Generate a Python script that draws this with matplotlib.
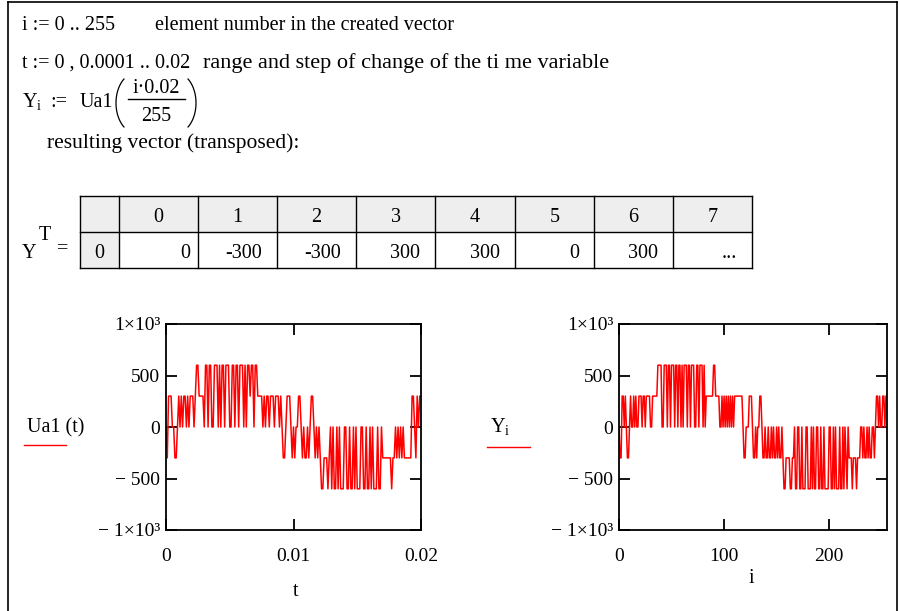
import numpy as np
import matplotlib
matplotlib.use("Agg")
import matplotlib.pyplot as plt
from matplotlib.lines import Line2D
from matplotlib.patches import Rectangle

plt.rcParams['font.family'] = ['Liberation Serif', 'DejaVu Serif']
plt.rcParams['mathtext.fontset'] = 'custom'
plt.rcParams['mathtext.rm'] = 'Liberation Serif'
plt.rcParams['mathtext.it'] = 'Liberation Serif:italic'

W, H = 899, 611
FS = 14.5      # worksheet text
TFS = 14       # tick labels

# Ua1(t), t = 0, 0.0001 .. 0.02  (201 points)
ua1_values = [
    0, -300, 300, 300, 300, 0, 0, -300, -300, 0,
    300, 0, 300, 0, 300, 300, 0, 300, 0, 300, 300, 300, 0, 300,
    600, 600, 300, 300, 300, 300, 0,
    600, 600, 0, 600, 600, 0, 0, 600, 600, 600, 0, 600, 0, 600, 600, 0, 600, 600, 600, 0,
    0, 600, 600, 0, 600, 600, 0, 600, 600, 600, 0, 600, 0, 600, 600, 300, 600, 600, 0, 600, 600,
    300, 300, 300, 300, 0, 300, 0, 300, 300, 0, 300, 300, 300, 0, 300, 300, 300,
    0, 300, 0, -300, -300, 0, 300, 300, 300, 0, -300, 0, -300, 0, 0, 300, 300, 0, -300, 0,
    -300, -300, 0, -300, 0, 300, 300, 0, -300, 0, -300, 0, -300,
    -600, -600, -300, -300, -300, -600, -300, 0, -600,
    0, -600, -600, 0, -600, 0, -600, -600, -600, 0, 0, -600, -600, 0, -600, -600, 0, -600, 0, -600,
    -600, -600, 0, 0, -600, -600, 0, -600, -600, 0, -600, 0, -600, -600, -600, 0, -600, -600, 0, -300,
    -300, -300, -300, -300, -300, -300, -600, -300, -300, 0,
    -300, 0, -300, 0, -300, 0, -300, -300, -300, -300, -300, -300,
    300, 300, 0, -300, 300, 0, 300, 300,
]

# Y_i = Ua1(i*0.02/255), i = 0 .. 255
y_values = [
    0, -300, -300, 300, 300, 0, 300, 0, -300, -300, 0,
    300, 0, 0, 300, 0, 300, 0, 0, 300, 300, 300, 0, 300, 300, 0, 300, 300, 300, 300, 0,
    0, 300, 300, 300, 300, 300,
    600, 600, 600, 600, 0, 0, 600, 600, 600, 0, 600, 600, 0, 600, 600, 600, 0, 600, 600, 0,
    600, 600, 0, 600,
    0, 600, 600, 600, 0, 600, 600, 0, 600, 600, 600, 0, 0, 600, 600, 0, 600, 600, 600, 0,
    600, 0, 300, 300, 300, 300, 300, 300, 300, 600, 600, 300,
    300, 300, 300, 0, 0, 300, 0, 300, 0, 300, 0, 300, 0, 300, 0, 300, 0, 300, 300, 300,
    300, 300, 300, 300, 300, 0,
    -300, -300, 0, 0, 0, 300, 300, 300, 0, -300, -300, 0, -300, 0, 0, 300, 300, 0, -300, -300,
    0, -300, -300, 0, -300, -300, 0, -300, 0, -300, -300, 0, -300, 0, -300, -300, 0, -300,
    -600, -600, -300, -300, -300, -300, -600, -600, -300, -300, 0, -600, -600, 0,
    0, -600, -600, 0, -600, -600, -600, 0, 0, -600, -600, -600, 0, -600, 0, -600, -600, 0, 0,
    -600, -600, 0, -600, -600, 0, -600, -600, -600, -600, 0, 0, -600, -600, 0, -600, 0, -600,
    -600, -600, 0, -600, -600, 0, -600, 0, -300, -600, 0, -300,
    -300, -300, -600, -300, -300, -300, -600, -300, -300, -300, 0,
    0, -300, 0, -300, -300, 0, -300, 0, -300, -300, 0, 0, -300,
    0, 300, 300, 0, 300, 0, 0, 300, 300, 0, 300, 300,
]

t = np.arange(len(ua1_values)) * 0.0001
i = np.arange(len(y_values))

table_head = ['0', '1', '2', '3', '4', '5', '6', '7']
table_row = ['0', '-300', '-300', '300', '300', '0', '300', '...']

y_ticks = [-1000, -500, 0, 500, 1000]
y_tick_labels = ['\u2212 1\u00d710\u00b3', '\u2212 500', '0', '500', '1\u00d710\u00b3']
t_ticks = [0, 0.01, 0.02]
t_tick_labels = ['0', '0.01', '0.02']
i_ticks = [0, 100, 200]
i_tick_labels = ['0', '100', '200']


# ── helpers (pixel coords -> figure coords) ───────────────────
def fx(x):
    return x / W


def fy(y):
    return 1 - y / H


fig = plt.figure(figsize=(W / 100, H / 100), dpi=100)


def txt(x, y, s, size=FS, **kw):
    kw.setdefault('va', 'baseline')
    fig.text(fx(x), fy(y), s, fontsize=size, **kw)


def hline(x0, x1, y, color='black', lw=1.0):
    fig.add_artist(Line2D([fx(x0), fx(x1)], [fy(y), fy(y)], color=color, lw=lw))


def vline(x, y0, y1, color='black', lw=1.0):
    fig.add_artist(Line2D([fx(x), fx(x)], [fy(y0), fy(y1)], color=color, lw=lw))


def paren(x_outer, y_mid, half_h, depth, left=True):
    a = depth / 0.4
    th = np.radians(np.linspace(127, 233, 40) if left else np.linspace(-53, 53, 40))
    cx = x_outer + a if left else x_outer - a
    xs = cx + a * np.cos(th)
    ys = y_mid - half_h / 0.8 * np.sin(th)
    fig.add_artist(Line2D(fx(xs), fy(ys), color='black', lw=0.9))


# ── worksheet frame ───────────────────────────────────────────
vline(8, 2, 611, lw=1.2)
hline(8, 897, 2, lw=1.2)
vline(897, 2, 611, lw=1.2)

# ── text lines ────────────────────────────────────────────────
txt(22, 30, 'i := 0 .. 255')
txt(155, 30, 'element number in the created vector')
txt(22, 68, 't := 0 , 0.0001 .. 0.02')
txt(203, 68, 'range and step of change of the ti me variable', size=16)
txt(22, 107, r'$\mathrm{Y}_{\mathrm{i}}$')
txt(50, 107, ':=')
txt(80, 107, 'Ua1')
paren(116, 103, 24, 8, left=True)
txt(156, 93, 'i\u00b70.02', ha='center')
hline(128, 185, 99, lw=1.0)
txt(156, 121, '255', ha='center')
paren(196, 103, 24, 8, left=False)
txt(47, 148, 'resulting vector (transposed):', size=15.5)

# ── Y^T table ─────────────────────────────────────────────────
txt(22, 258, 'Y')
txt(39, 240, 'T')
txt(57, 253, '=')
col_edges = [80, 119, 198, 277, 356, 435, 515, 594, 673, 752]
row_top, row_mid, row_bot = 196, 232, 268
gray = '#eeeeee'
fig.add_artist(Rectangle((fx(80), fy(row_mid)), (752 - 80) / W, (row_mid - row_top) / H,
                         facecolor=gray, edgecolor='none'))
fig.add_artist(Rectangle((fx(80), fy(row_bot)), (119 - 80) / W, (row_bot - row_mid) / H,
                         facecolor=gray, edgecolor='none'))
for yy in (row_top, row_mid, row_bot):
    hline(80, 752, yy, lw=1.0)
for xx in col_edges:
    vline(xx, row_top, row_bot, lw=1.0)
txt(99, 258, '0', ha='center')
for k, (head, val) in enumerate(zip(table_head, table_row)):
    x0, x1 = col_edges[k + 1], col_edges[k + 2]
    txt((x0 + x1) / 2, 222, head, ha='center')
    pad = 8 if k == 0 else 15
    txt(x1 - pad, 258, val, ha='right')


# ── plots ─────────────────────────────────────────────────────
def make_axes(x0, x1, y0, y1):
    ax = fig.add_axes([fx(x0), fy(y1), (x1 - x0) / W, (y1 - y0) / H])
    for s in ax.spines.values():
        s.set_linewidth(1.3)
    ax.set_ylim(-1000, 1000)
    ax.set_yticks(y_ticks)
    ax.set_yticklabels(y_tick_labels)
    ax.tick_params(direction='in', length=8, width=1.3, top=True, right=True,
                   labelsize=TFS)
    ax.tick_params(axis='y', pad=4)
    ax.tick_params(axis='x', pad=13)
    return ax


ax1 = make_axes(166, 421, 324, 530)
ax1.plot(t, ua1_values, color='red', lw=1.1)
ax1.set_xlim(0, 0.02)
ax1.set_xticks(t_ticks)
ax1.set_xticklabels(t_tick_labels)

ax2 = make_axes(619, 887, 324, 530)
ax2.plot(i, y_values, color='red', lw=1.1)
ax2.set_xlim(0, 255)
ax2.set_xticks(i_ticks)
ax2.set_xticklabels(i_tick_labels)

# axis labels in the Mathcad style (with the trace sample underneath)
txt(296, 596, 't', ha='center')
txt(751, 583, 'i', ha='center')
txt(27, 432, 'Ua1 (t)')
hline(24, 66, 445, color='red', lw=1.0)
txt(490, 432, r'$\mathrm{Y}_{\mathrm{i}}$')
hline(487, 530, 447, color='red', lw=1.0)

fig.savefig('out.png', dpi=100)
